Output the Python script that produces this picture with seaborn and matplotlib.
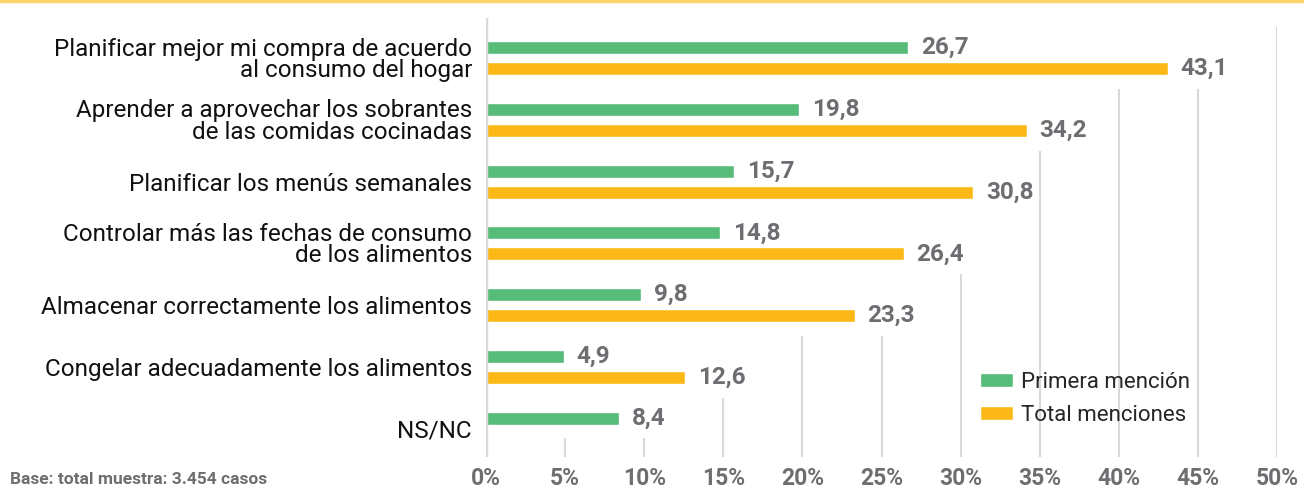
import numpy as np
import pandas as pd
import seaborn as sns
import matplotlib.pyplot as plt
from matplotlib.lines import Line2D

# data
categories = [
    "Planificar mejor mi compra de acuerdo\nal consumo del hogar",
    "Aprender a aprovechar los sobrantes\nde las comidas cocinadas",
    "Planificar los menús semanales",
    "Controlar más las fechas de consumo\nde los alimentos",
    "Almacenar correctamente los alimentos",
    "Congelar adecuadamente los alimentos",
    "NS/NC",
]
primera = [26.7, 19.8, 15.7, 14.8, 9.8, 4.9, 8.4]
total = [43.1, 34.2, 30.8, 26.4, 23.3, 12.6, np.nan]
series = ["Primera mención", "Total menciones"]
xticks = [0, 5, 10, 15, 20, 25, 30, 35, 40, 45, 50]

GREEN = "#57bb7a"
ORANGE = "#fcb817"
GRAY = "#6d6e71"
GRID = "#d9d9d9"

df = pd.DataFrame({
    "categoria": categories * 2,
    "serie": [series[0]] * len(categories) + [series[1]] * len(categories),
    "valor": primera + total,
})

sns.set_theme(style="white")
plt.rcParams["font.family"] = ["Roboto", "DejaVu Sans"]

fig = plt.figure(figsize=(13.04, 4.9), dpi=100)
ax = fig.add_axes([0.3727, 0.0673, 0.6066, 0.896])

sns.barplot(data=df, y="categoria", x="valor", hue="serie", order=categories,
            hue_order=series, palette=[GREEN, ORANGE], saturation=1, orient="h",
            width=0.68, gap=0.38, ax=ax, zorder=3)

ax.set_xlim(0, 50)
ax.set_ylim(len(categories) - 0.54, -0.65)

# gridlines, hidden behind the bars/labels of each row (as in the original)
extent = [np.nanmax([p, t]) + 4 for p, t in zip(primera, total)]
n = len(categories)
for t in xticks[1:]:
    top = n - 1 + 0.15
    for i in range(n - 1, -1, -1):
        if extent[i] < t:
            top = i - 0.5
        else:
            break
    top = max(top, -0.65)
    ax.vlines(t, len(categories) - 0.54, top, color=GRID, lw=1.5, zorder=1)
ax.axvline(0, color=GRID, lw=2.5, zorder=4)

for c in ax.containers:
    ax.bar_label(c, labels=[f"{v:.1f}".replace(".", ",") for v in c.datavalues],
                 padding=9, fontsize=17.5, fontweight="bold", color=GRAY)

ax.set_xticks(xticks)
ax.set_xticklabels([f"{t}%" for t in xticks], fontsize=16.5, fontweight="bold", color=GRAY)
ax.tick_params(axis="x", length=0, pad=7)
ax.tick_params(axis="y", length=0, pad=10, labelsize=17.5, labelcolor="#111111")
for lab in ax.get_yticklabels():
    lab.set_linespacing(0.92)
ax.set_xlabel("")
ax.set_ylabel("")
for s in ax.spines.values():
    s.set_visible(False)

handles, labels = ax.get_legend_handles_labels()
ax.legend(handles, labels, loc="center left", bbox_to_anchor=(0.61, 0.133),
          frameon=False, fontsize=16, handlelength=1.5, handleheight=0.6,
          handletextpad=0.35, labelspacing=0.55, borderpad=0)

fig.add_artist(Line2D([0, 1], [0.997, 0.997], color="#fdd36a", lw=2.5))
fig.text(0.008, 0.006, "Base: total muestra: 3.454 casos", fontsize=12.5,
         fontweight="bold", color=GRAY, va="bottom", ha="left")

fig.savefig("out.png", dpi=100)
